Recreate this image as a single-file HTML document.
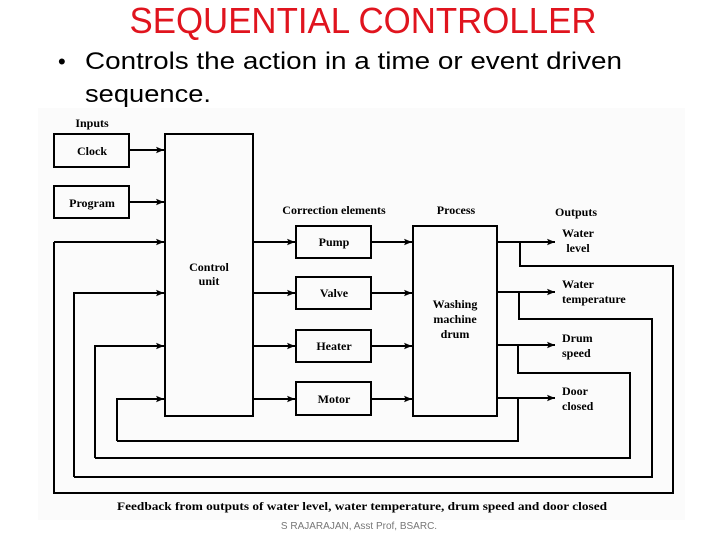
<!DOCTYPE html>
<html><head><meta charset="utf-8"><style>html,body{margin:0;padding:0;background:#fff}svg{display:block}</style></head>
<body>
<svg width="720" height="540" viewBox="0 0 720 540" xmlns="http://www.w3.org/2000/svg">
<defs><marker id="a" viewBox="0 0 10 10" refX="10" refY="5" markerWidth="11" markerHeight="8" markerUnits="userSpaceOnUse" orient="auto"><path d="M0,1 L10,5 L0,9 L2,5 Z" fill="#000"/></marker></defs>
<rect x="38" y="108" width="647" height="412" fill="#fbfbfb"/>
<text x="363" y="33" text-anchor="middle" font-family="Liberation Sans Narrow, Liberation Sans, sans-serif" font-size="36" fill="#e0141e" textLength="467" lengthAdjust="spacingAndGlyphs">SEQUENTIAL CONTROLLER</text>
<text x="58" y="69" font-family="Liberation Sans, sans-serif" font-size="22">•</text>
<text x="85" y="69" font-family="Liberation Sans, sans-serif" font-size="24" textLength="537" lengthAdjust="spacingAndGlyphs">Controls the action in a time or event driven</text>
<text x="85" y="102" font-family="Liberation Sans, sans-serif" font-size="24" textLength="126" lengthAdjust="spacingAndGlyphs">sequence.</text>
<g fill="none" stroke="#000" stroke-width="2">
<rect x="54" y="134" width="75" height="33"/>
<rect x="54" y="186" width="75" height="32"/>
<rect x="165" y="134" width="88" height="282"/>
<rect x="296" y="226" width="75" height="32"/>
<rect x="296" y="277" width="75" height="32"/>
<rect x="296" y="330" width="75" height="32"/>
<rect x="296" y="382" width="75" height="33"/>
<rect x="413" y="226" width="84" height="190"/>
</g>
<g fill="none" stroke="#000" stroke-width="2" marker-end="url(#a)">
<path d="M129 150H164"/><path d="M129 202H164"/>
<path d="M54 242V493H673V266H520V242" marker-end="none"/>
<path d="M74 477H652V319H519V292" marker-end="none"/>
<path d="M95 458H630V373H518V345" marker-end="none"/>
<path d="M117 441H518V398" marker-end="none"/>
<path d="M54 242H164"/><path d="M74 477V293H164"/><path d="M95 458V346H164"/><path d="M117 441V399H164"/>
<path d="M253 242H295"/><path d="M253 293H295"/><path d="M253 346H295"/><path d="M253 399H295"/>
<path d="M371 242H412"/><path d="M371 293H412"/><path d="M371 346H412"/><path d="M371 399H412"/>
<path d="M497 242H555"/><path d="M497 292H555"/><path d="M497 345H555"/><path d="M497 398H555"/>
</g>
<g font-family="Liberation Serif, serif" font-weight="bold" font-size="12" fill="#000">
<text x="92" y="127" text-anchor="middle">Inputs</text>
<text x="92" y="155" text-anchor="middle">Clock</text>
<text x="92" y="207" text-anchor="middle">Program</text>
<text x="209" y="271" text-anchor="middle">Control</text>
<text x="209" y="285" text-anchor="middle">unit</text>
<text x="334" y="214" text-anchor="middle">Correction elements</text>
<text x="456" y="214" text-anchor="middle">Process</text>
<text x="576" y="216" text-anchor="middle">Outputs</text>
<text x="334" y="246" text-anchor="middle">Pump</text>
<text x="334" y="297" text-anchor="middle">Valve</text>
<text x="334" y="350" text-anchor="middle">Heater</text>
<text x="334" y="403" text-anchor="middle">Motor</text>
<text x="455" y="308" text-anchor="middle">Washing</text>
<text x="455" y="323" text-anchor="middle">machine</text>
<text x="455" y="338" text-anchor="middle">drum</text>
<text x="578" y="237" text-anchor="middle">Water</text>
<text x="578" y="252" text-anchor="middle">level</text>
<text x="562" y="288">Water</text>
<text x="562" y="303">temperature</text>
<text x="562" y="342">Drum</text>
<text x="562" y="357">speed</text>
<text x="562" y="395">Door</text>
<text x="562" y="410">closed</text>
<text x="362" y="510" text-anchor="middle" textLength="490" lengthAdjust="spacingAndGlyphs">Feedback from outputs of water level, water temperature, drum speed and door closed</text>
</g>
<text x="359" y="529" text-anchor="middle" font-family="Liberation Sans, sans-serif" font-size="10" fill="#777">S RAJARAJAN, Asst Prof, BSARC.</text>
</svg>
</body></html>
